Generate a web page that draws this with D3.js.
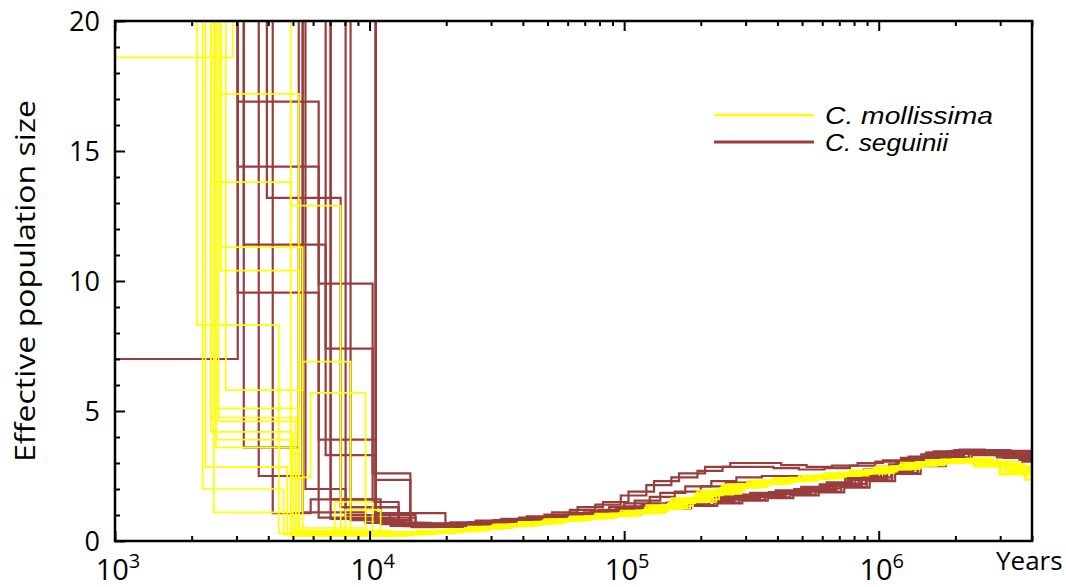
<!DOCTYPE html>
<html>
<head>
<meta charset="utf-8">
<script src="https://cdn.jsdelivr.net/npm/d3@7"></script>
<style>
  body { margin: 0; background: #fff; }
  svg { display: block; }
</style>
</head>
<body>
<svg id="chart"></svg>
<script>
// time grid (years) for the older part of each PSMC run
var gridYears = [12600, 15800, 20000, 25100, 31600, 39800, 50100, 63100, 79400, 100000,
  126000, 158000, 200000, 251000, 316000, 398000, 501000, 631000, 794000, 1000000,
  1260000, 1580000, 2000000, 2510000, 3160000, 3980000];

// C. mollissima: recent steps [years, Ne] (40 = off the chart)
var mollissimaRecent = [
  [[800,18.6],[2900,40],[4900,0.4],[8050,0.28]],
  [[1500,40],[2100,8.3],[4400,0.3]],
  [[1500,40],[2210,2.0],[4600,0.25]],
  [[1500,40],[2445,1.1],[4900,0.2]],
  [[1500,40],[2380,4.75],[5130,0.3],[8050,1.2],[11050,0.3]],
  [[1500,40],[2445,5.1],[5270,0.25]],
  [[1500,40],[2605,11.3],[5460,0.35]],
  [[1500,40],[2605,10.4],[5270,0.5],[9640,0.3]],
  [[1500,40],[2605,17.2],[5270,0.3]],
  [[1500,40],[2445,13.8],[4900,12.9],[7700,0.4]],
  [[1500,40],[2725,5.8],[5460,6.9],[8420,0.3]],
  [[1500,40],[2490,3.9],[4900,2.45],[5870,5.7],[9640,0.3]],
  [[1500,40],[2270,2.85],[4750,0.3]],
  [[1500,40],[2490,3.6],[5130,0.22]],
  [[1500,40],[2380,4.2],[5000,0.35],[7300,1.5],[10280,0.32]],
  [[1500,40],[2550,4.6],[5270,0.28]]
];
// C. mollissima: Ne on gridYears
var mollissimaNe = [
  [0.3,0.35,0.4,0.5,0.6,0.7,0.8,0.9,1.0,1.1,1.3,1.55,1.85,2.1,2.25,2.35,2.45,2.55,2.65,2.8,2.95,3.05,3.1,2.95,2.7,2.55],
  [0.25,0.3,0.38,0.47,0.57,0.66,0.76,0.86,0.95,1.05,1.22,1.48,1.8,2.05,2.2,2.3,2.4,2.5,2.6,2.75,2.9,3.0,3.05,2.9,2.62,2.4],
  [0.35,0.4,0.45,0.55,0.64,0.74,0.84,0.95,1.05,1.17,1.38,1.65,1.95,2.18,2.32,2.42,2.52,2.62,2.72,2.86,3.02,3.12,3.16,3.05,2.86,2.8],
  [0.28,0.33,0.41,0.5,0.59,0.69,0.79,0.88,0.98,1.08,1.27,1.52,1.82,2.08,2.22,2.33,2.43,2.53,2.63,2.78,2.93,3.03,3.08,2.92,2.66,2.5],
  [0.32,0.37,0.43,0.52,0.62,0.72,0.82,0.92,1.02,1.13,1.33,1.6,1.9,2.14,2.28,2.38,2.48,2.58,2.68,2.83,2.98,3.08,3.12,2.98,2.74,2.6],
  [0.22,0.28,0.35,0.45,0.55,0.65,0.75,0.85,0.94,1.03,1.2,1.45,1.75,2.02,2.18,2.28,2.38,2.48,2.58,2.72,2.88,2.98,3.02,2.86,2.55,2.35],
  [0.3,0.36,0.42,0.51,0.61,0.71,0.81,0.91,1.01,1.12,1.31,1.57,1.87,2.12,2.26,2.36,2.46,2.56,2.66,2.81,2.96,3.06,3.1,2.96,2.72,2.62],
  [0.27,0.32,0.39,0.49,0.58,0.68,0.78,0.87,0.97,1.07,1.25,1.5,1.83,2.07,2.21,2.31,2.41,2.51,2.61,2.76,2.91,3.01,3.06,2.9,2.64,2.48],
  [0.33,0.38,0.44,0.54,0.63,0.73,0.83,0.94,1.04,1.15,1.36,1.62,1.92,2.16,2.3,2.4,2.5,2.6,2.7,2.85,3.0,3.1,3.14,3.02,2.82,2.75],
  [0.29,0.34,0.4,0.48,0.6,0.7,0.8,0.9,0.99,1.09,1.29,1.54,1.86,2.1,2.24,2.34,2.44,2.54,2.64,2.79,2.94,3.04,3.09,2.94,2.68,2.52],
  [0.24,0.3,0.37,0.46,0.56,0.67,0.77,0.87,0.96,1.06,1.24,1.49,1.78,2.04,2.19,2.29,2.39,2.49,2.59,2.74,2.89,2.99,3.04,2.88,2.6,2.42],
  [0.31,0.36,0.42,0.53,0.62,0.72,0.82,0.93,1.03,1.14,1.34,1.6,1.89,2.13,2.27,2.37,2.47,2.57,2.67,2.82,2.97,3.07,3.11,2.97,2.76,2.65],
  [0.26,0.31,0.39,0.48,0.58,0.68,0.78,0.88,0.98,1.08,1.26,1.51,1.84,2.09,2.23,2.33,2.43,2.53,2.63,2.77,2.92,3.02,3.07,2.92,2.67,2.5],
  [0.3,0.35,0.41,0.5,0.6,0.7,0.8,0.9,1.0,1.1,1.3,1.56,1.86,2.11,2.25,2.35,2.45,2.55,2.65,2.8,2.95,3.05,3.1,2.95,2.7,2.56],
  [0.34,0.39,0.45,0.55,0.65,0.75,0.85,0.96,1.06,1.18,1.4,1.67,1.97,2.2,2.34,2.44,2.54,2.64,2.74,2.88,3.04,3.14,3.18,3.06,2.88,2.85],
  [0.23,0.29,0.36,0.46,0.56,0.66,0.76,0.86,0.95,1.04,1.21,1.46,1.77,2.03,2.19,2.29,2.39,2.49,2.59,2.73,2.88,2.98,3.03,2.87,2.59,2.38]
];
// per-run time scaling of the grid
var mollissimaScale = [1.00,1.06,0.97,1.12,1.03,0.94,1.09,1.15,1.01,0.96,1.07,1.18,1.04,0.99,1.11,0.95];

// C. seguinii
var seguiniiRecent = [
  [[800,7.0],[3035,40],[5460,1.1],[9640,0.7]],
  [[1500,40],[3035,16.9],[6310,0.9],[11050,0.65]],
  [[1500,40],[3035,14.4],[6310,9.9],[10280,2.6],[14460,0.7]],
  [[1500,40],[3950,13.2],[7700,1.3],[13000,0.65]],
  [[1500,40],[3205,11.4],[6720,7.4],[10280,1.5],[13000,0.6]],
  [[1500,40],[3035,9.55],[6310,3.9],[10570,2.35],[14460,0.6]],
  [[1500,40],[3205,3.6],[5270,40],[10570,1.07],[19860,0.6]],
  [[1500,40],[3670,2.5],[5460,40],[10570,0.75]],
  [[1500,40],[4165,1.07],[5870,1.6],[10570,0.9],[15150,0.6]],
  [[1500,40],[6720,3.3],[10570,0.8]],
  [[1500,40],[7030,0.85]],
  [[1500,40],[10570,0.75]],
  [[1500,40],[3670,40],[5600,2.0],[8050,1.3],[13000,0.7]],
  [[1500,40],[4470,40],[7030,1.6],[11050,1.0],[15150,0.65]],
  [[1500,40],[8050,1.0],[12000,0.72]],
  [[1500,40],[5600,40],[8420,0.8]]
];
var seguiniiNe = [
  [0.7,0.68,0.72,0.78,0.85,0.95,1.1,1.3,1.5,1.9,2.3,2.6,2.85,3.0,3.0,2.92,2.85,2.9,3.0,3.1,3.25,3.45,3.52,3.5,3.47,3.44],
  [0.65,0.62,0.66,0.72,0.8,0.9,1.02,1.2,1.4,1.75,2.15,2.45,2.7,2.85,2.85,2.8,2.75,2.8,2.9,3.05,3.2,3.4,3.47,3.44,3.4,3.36],
  [0.6,0.6,0.64,0.7,0.78,0.86,0.97,1.1,1.3,1.55,1.85,2.1,2.3,2.45,2.5,2.5,2.5,2.6,2.75,2.95,3.15,3.38,3.46,3.42,3.35,3.3],
  [0.58,0.57,0.62,0.68,0.75,0.83,0.94,1.05,1.2,1.45,1.7,1.9,2.1,2.25,2.3,2.35,2.4,2.5,2.65,2.85,3.1,3.35,3.44,3.4,3.32,3.25],
  [0.6,0.6,0.63,0.67,0.72,0.8,0.9,1.0,1.1,1.25,1.35,1.45,1.55,1.65,1.75,1.85,1.97,2.15,2.4,2.7,3.0,3.3,3.42,3.38,3.28,3.2],
  [0.55,0.55,0.58,0.62,0.68,0.76,0.86,0.96,1.05,1.18,1.28,1.38,1.48,1.58,1.68,1.78,1.9,2.08,2.33,2.62,2.92,3.22,3.35,3.3,3.12,2.95],
  [0.65,0.64,0.67,0.71,0.76,0.84,0.94,1.04,1.15,1.3,1.42,1.52,1.62,1.72,1.82,1.92,2.04,2.22,2.47,2.77,3.07,3.37,3.48,3.45,3.36,3.3],
  [0.57,0.57,0.6,0.64,0.7,0.78,0.88,0.98,1.08,1.22,1.32,1.42,1.52,1.62,1.72,1.82,1.94,2.12,2.37,2.66,2.96,3.26,3.38,3.34,3.22,3.12],
  [0.62,0.61,0.64,0.68,0.74,0.82,0.92,1.02,1.12,1.28,1.38,1.48,1.58,1.68,1.78,1.88,2.0,2.18,2.43,2.73,3.03,3.33,3.45,3.41,3.31,3.24],
  [0.53,0.54,0.57,0.61,0.66,0.74,0.84,0.93,1.02,1.15,1.25,1.35,1.45,1.55,1.65,1.75,1.87,2.05,2.3,2.58,2.88,3.18,3.3,3.22,3.05,2.9],
  [0.67,0.66,0.68,0.72,0.78,0.86,0.96,1.07,1.18,1.33,1.45,1.55,1.65,1.75,1.85,1.95,2.08,2.26,2.52,2.82,3.12,3.4,3.5,3.47,3.4,3.35],
  [0.59,0.58,0.61,0.65,0.71,0.79,0.89,0.99,1.09,1.23,1.33,1.43,1.53,1.63,1.73,1.83,1.95,2.13,2.38,2.68,2.98,3.28,3.4,3.36,3.25,3.15],
  [0.61,0.6,0.63,0.67,0.73,0.81,0.91,1.01,1.11,1.26,1.36,1.46,1.56,1.66,1.76,1.86,1.98,2.16,2.41,2.71,3.01,3.31,3.43,3.39,3.29,3.22],
  [0.56,0.56,0.59,0.63,0.69,0.77,0.87,0.97,1.06,1.2,1.3,1.4,1.5,1.6,1.7,1.8,1.92,2.1,2.35,2.64,2.94,3.24,3.36,3.32,3.2,3.1],
  [0.64,0.63,0.65,0.69,0.75,0.83,0.93,1.03,1.13,1.29,1.4,1.5,1.6,1.7,1.8,1.9,2.02,2.2,2.45,2.75,3.05,3.35,3.46,3.43,3.34,3.28],
  [0.58,0.58,0.6,0.64,0.7,0.78,0.88,0.98,1.08,1.22,1.32,1.42,1.52,1.62,1.72,1.82,1.94,2.12,2.36,2.66,2.96,3.26,3.38,3.34,3.23,3.13]
];
var seguiniiScale = [1.04,0.97,1.10,1.00,0.95,1.13,1.02,1.08,0.93,1.16,0.99,1.05,1.07,0.98,1.12,0.96];

var xTickValues = [1e3, 1e4, 1e5, 1e6];
var xTickExponents = ["3", "4", "5", "6"];
var yTickValues = [0, 5, 10, 15, 20];
var legendNames = ["C. mollissima", "C. seguinii"];
var colors = ["#ffff00", "#993d3d"];

function buildRun(recent, ne, scale) {
    var pts = recent.slice();
    var last = recent[recent.length - 1][0];
    gridYears.forEach(function(t, i) {
        if (t * scale > last) pts.push([t * scale, ne[i]]);
    });
    pts.push([6e6, ne[ne.length - 1]]);
    return pts;
}

function draw() {
    var width = 1066, height = 587;
    var left = 115, right = 1032, top = 21, bottom = 541;

    var x = d3.scaleLog().domain([1e3, 4e6]).range([left, right]);
    var y = d3.scaleLinear().domain([0, 20]).range([bottom, top]);

    var svg = d3.select("#chart").attr("width", width).attr("height", height);

    svg.append("clipPath").attr("id", "plotclip")
        .append("rect").attr("x", left).attr("y", top)
        .attr("width", right - left).attr("height", bottom - top);

    var line = d3.line()
        .x(function(d) { return x(d[0]); })
        .y(function(d) { return y(Math.min(d[1], 30)); })
        .curve(d3.curveStepAfter);

    var plot = svg.append("g").attr("clip-path", "url(#plotclip)");

    var brownRuns = seguiniiRecent.map(function(r, i) { return buildRun(r, seguiniiNe[i], seguiniiScale[i]); });
    var yellowRuns = mollissimaRecent.map(function(r, i) { return buildRun(r, mollissimaNe[i], mollissimaScale[i]); });

    plot.selectAll(".brown").data(brownRuns).enter().append("path")
        .attr("class", "brown")
        .attr("d", line)
        .attr("fill", "none")
        .attr("stroke", colors[1])
        .attr("stroke-width", 2.2);

    plot.selectAll(".yellow").data(yellowRuns).enter().append("path")
        .attr("class", "yellow")
        .attr("d", line)
        .attr("fill", "none")
        .attr("stroke", colors[0])
        .attr("stroke-width", 1.7);

    // frame
    svg.append("rect").attr("x", left).attr("y", top)
        .attr("width", right - left).attr("height", bottom - top)
        .attr("fill", "none").attr("stroke", "#000").attr("stroke-width", 2.5);

    // x ticks, bottom (inward) and top (inward)
    var minorX = [];
    [1e3, 1e4, 1e5, 1e6].forEach(function(d) {
        for (var k = 2; k <= 9; k++) if (d * k <= 4e6) minorX.push(d * k);
    });
    var axisBits = [
        { axis: d3.axisBottom(x).tickValues(xTickValues).tickSize(-10), y: bottom },
        { axis: d3.axisBottom(x).tickValues(minorX).tickSize(-5), y: bottom },
        { axis: d3.axisTop(x).tickValues(xTickValues).tickSize(-10), y: top },
        { axis: d3.axisTop(x).tickValues(minorX).tickSize(-5), y: top }
    ];
    axisBits.forEach(function(b) {
        var g = svg.append("g").attr("transform", "translate(0," + b.y + ")")
            .call(b.axis.tickFormat(""));
        g.select(".domain").remove();
        g.selectAll("line").attr("stroke", "#000").attr("stroke-width", 2);
    });

    // y ticks
    var minorY = d3.range(0, 21).filter(function(d) { return d % 5 !== 0; });
    [[yTickValues, -10], [minorY, -5]].forEach(function(b) {
        var g = svg.append("g").attr("transform", "translate(" + left + ",0)")
            .call(d3.axisLeft(y).tickValues(b[0]).tickSize(b[1]).tickFormat(""));
        g.select(".domain").remove();
        g.selectAll("line").attr("stroke", "#000").attr("stroke-width", 2);
    });

    var font = "'Open Sans', sans-serif";

    svg.selectAll(".ylab").data(yTickValues).enter().append("text")
        .attr("x", 100).attr("y", function(d) { return y(d); })
        .attr("dy", "0.36em")
        .attr("text-anchor", "end")
        .attr("font-family", font).attr("font-size", 27)
        .text(function(d) { return d; });

    var xl = svg.selectAll(".xlab").data(xTickValues).enter().append("text")
        .attr("x", function(d) { return x(d) + 3; }).attr("y", 580)
        .attr("text-anchor", "middle")
        .attr("font-family", font).attr("font-size", 29);
    xl.append("tspan").text("10");
    xl.append("tspan").attr("dy", -12).attr("font-size", 20)
        .text(function(d, i) { return xTickExponents[i]; });

    svg.append("text").attr("x", 996).attr("y", 570)
        .attr("font-family", font).attr("font-size", 26)
        .text("Years");

    svg.append("text")
        .attr("transform", "translate(35,281) rotate(-90)")
        .attr("text-anchor", "middle")
        .attr("font-family", font).attr("font-size", 28)
        .attr("textLength", 362).attr("lengthAdjust", "spacingAndGlyphs")
        .text("Effective population size");

    // legend
    var legendWidths = [168, 123];
    var leg = svg.append("g");
    legendNames.forEach(function(name, i) {
        var ly = 115 + i * 27;
        leg.append("line").attr("x1", 714).attr("x2", 814)
            .attr("y1", ly).attr("y2", ly)
            .attr("stroke", colors[i]).attr("stroke-width", i ? 3 : 2.5);
        leg.append("text").attr("x", 825).attr("y", ly + 9)
            .attr("font-family", "'Liberation Sans', Arial, sans-serif")
            .attr("font-style", "italic").attr("font-size", 23)
            .attr("textLength", legendWidths[i]).attr("lengthAdjust", "spacingAndGlyphs")
            .text(name);
    });
}

draw();
</script>
</body>
</html>
